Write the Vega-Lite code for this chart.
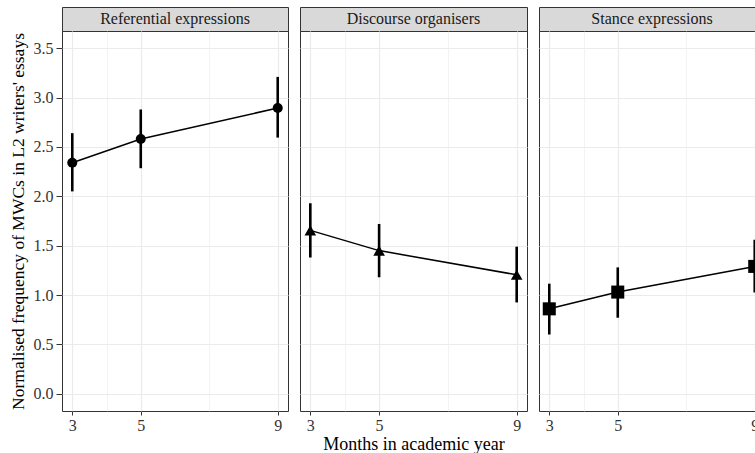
{
  "$schema": "https://vega.github.io/schema/vega-lite/v6.json",
  "background": "white",
  "padding": {"left": 8, "top": 6, "right": 0, "bottom": 0},
  "data": {
    "values": [
      {"type": "Referential expressions", "month": 3, "mean": 2.34, "lo": 2.05, "hi": 2.64},
      {"type": "Referential expressions", "month": 5, "mean": 2.58, "lo": 2.285, "hi": 2.88},
      {"type": "Referential expressions", "month": 9, "mean": 2.895, "lo": 2.595, "hi": 3.21},
      {"type": "Discourse organisers", "month": 3, "mean": 1.655, "lo": 1.38, "hi": 1.93},
      {"type": "Discourse organisers", "month": 5, "mean": 1.45, "lo": 1.18, "hi": 1.72},
      {"type": "Discourse organisers", "month": 9, "mean": 1.205, "lo": 0.925, "hi": 1.49},
      {"type": "Stance expressions", "month": 3, "mean": 0.86, "lo": 0.6, "hi": 1.115},
      {"type": "Stance expressions", "month": 5, "mean": 1.03, "lo": 0.77, "hi": 1.28},
      {"type": "Stance expressions", "month": 9, "mean": 1.29, "lo": 1.025, "hi": 1.56}
    ]
  },
  "spacing": 10,
  "hconcat": [
    {
      "spacing": 0,
      "bounds": "flush",
      "vconcat": [
        {
          "width": 226,
          "height": 24,
          "view": {"fill": "#d9d9d9", "stroke": "#333333"},
          "transform": [
            {"filter": "datum.type === 'Referential expressions'"},
            {"aggregate": [{"op": "count", "as": "n"}], "groupby": ["type"]}
          ],
          "mark": {"type": "text", "fontSize": 16, "color": "#1a1a1a"},
          "encoding": {"text": {"field": "type"}}
        },
        {
          "width": 226,
          "height": 380,
          "transform": [{"filter": "datum.type === 'Referential expressions'"}],
          "encoding": {
            "x": {
              "field": "month",
              "type": "quantitative",
              "scale": {"domain": [2.7, 9.3], "nice": false, "zero": false},
              "axis": {
                "values": [3, 4, 5, 7, 9],
                "title": null,
                "labelExpr": "datum.value == 4 || datum.value == 7 ? '' : datum.label",
                "gridWidth": {"condition": {"test": "datum.value == 4 || datum.value == 7", "value": 0.6}, "value": 1.2},
                "tickOpacity": {"condition": {"test": "datum.value == 4 || datum.value == 7", "value": 0}, "value": 1}
              }
            }
          },
          "layer": [
            {
              "mark": {"type": "rule", "strokeWidth": 2.6, "color": "black"},
              "encoding": {
                "y": {
                  "field": "lo",
                  "type": "quantitative",
                  "scale": {"domain": [-0.175, 3.675], "nice": false, "zero": false},
                  "axis": {
                    "values": [0, 0.25, 0.5, 0.75, 1, 1.25, 1.5, 1.75, 2, 2.25, 2.5, 2.75, 3, 3.25, 3.5],
                    "title": "Normalised frequency of MWCs in L2 writers' essays",
                    "titlePadding": 6,
                    "titleFontSize": 17.5,
                    "labelFontSize": 16,
                    "tickSize": 6,
                    "labelPadding": 3,
                    "labelExpr": "round(datum.value * 2) != datum.value * 2 ? '' : format(datum.value, '.1f')",
                    "gridWidth": {"condition": {"test": "round(datum.value * 2) != datum.value * 2", "value": 0.6}, "value": 1.2},
                    "tickOpacity": {"condition": {"test": "round(datum.value * 2) != datum.value * 2", "value": 0}, "value": 1}
                  }
                },
                "y2": {"field": "hi"}
              }
            },
            {
              "mark": {"type": "line", "strokeWidth": 1.5, "color": "black"},
              "encoding": {
                "y": {"field": "mean", "type": "quantitative", "title": "Normalised frequency of MWCs in L2 writers' essays"}
              }
            },
            {
              "mark": {"type": "point", "filled": true, "opacity": 1, "color": "black"},
              "encoding": {
                "y": {"field": "mean", "type": "quantitative", "title": "Normalised frequency of MWCs in L2 writers' essays"},
                "shape": {
                  "field": "type",
                  "scale": {"domain": ["Referential expressions", "Discourse organisers", "Stance expressions"], "range": ["circle", "triangle-up", "square"]},
                  "legend": null
                },
                "size": {
                  "field": "type",
                  "scale": {"domain": ["Referential expressions", "Discourse organisers", "Stance expressions"], "range": [100, 170, 95]},
                  "legend": null
                }
              }
            }
          ]
        }
      ]
    },
    {
      "spacing": 0,
      "bounds": "flush",
      "vconcat": [
        {
          "width": 227,
          "height": 24,
          "view": {"fill": "#d9d9d9", "stroke": "#333333"},
          "transform": [
            {"filter": "datum.type === 'Discourse organisers'"},
            {"aggregate": [{"op": "count", "as": "n"}], "groupby": ["type"]}
          ],
          "mark": {"type": "text", "fontSize": 16, "color": "#1a1a1a"},
          "encoding": {"text": {"field": "type"}}
        },
        {
          "width": 227,
          "height": 380,
          "transform": [{"filter": "datum.type === 'Discourse organisers'"}],
          "encoding": {
            "x": {
              "field": "month",
              "type": "quantitative",
              "scale": {"domain": [2.7, 9.3], "nice": false, "zero": false},
              "axis": {
                "values": [3, 4, 5, 7, 9],
                "title": "Months in academic year",
                "labelExpr": "datum.value == 4 || datum.value == 7 ? '' : datum.label",
                "gridWidth": {"condition": {"test": "datum.value == 4 || datum.value == 7", "value": 0.6}, "value": 1.2},
                "tickOpacity": {"condition": {"test": "datum.value == 4 || datum.value == 7", "value": 0}, "value": 1}
              }
            }
          },
          "layer": [
            {
              "mark": {"type": "rule", "strokeWidth": 2.6, "color": "black"},
              "encoding": {
                "y": {
                  "field": "lo",
                  "type": "quantitative",
                  "scale": {"domain": [-0.175, 3.675], "nice": false, "zero": false},
                  "axis": {
                    "values": [0, 0.25, 0.5, 0.75, 1, 1.25, 1.5, 1.75, 2, 2.25, 2.5, 2.75, 3, 3.25, 3.5],
                    "title": null,
                    "labels": false,
                    "ticks": false,
                    "gridWidth": {"condition": {"test": "round(datum.value * 2) != datum.value * 2", "value": 0.6}, "value": 1.2}
                  }
                },
                "y2": {"field": "hi"}
              }
            },
            {
              "mark": {"type": "line", "strokeWidth": 1.5, "color": "black"},
              "encoding": {"y": {"field": "mean", "type": "quantitative", "title": null}}
            },
            {
              "mark": {"type": "point", "filled": true, "opacity": 1, "color": "black"},
              "encoding": {
                "y": {"field": "mean", "type": "quantitative", "title": null},
                "shape": {
                  "field": "type",
                  "scale": {"domain": ["Referential expressions", "Discourse organisers", "Stance expressions"], "range": ["circle", "triangle-up", "square"]},
                  "legend": null
                },
                "size": {
                  "field": "type",
                  "scale": {"domain": ["Referential expressions", "Discourse organisers", "Stance expressions"], "range": [100, 170, 95]},
                  "legend": null
                }
              }
            }
          ]
        }
      ]
    },
    {
      "spacing": 0,
      "bounds": "flush",
      "vconcat": [
        {
          "width": 226,
          "height": 24,
          "view": {"fill": "#d9d9d9", "stroke": "#333333"},
          "transform": [
            {"filter": "datum.type === 'Stance expressions'"},
            {"aggregate": [{"op": "count", "as": "n"}], "groupby": ["type"]}
          ],
          "mark": {"type": "text", "fontSize": 16, "color": "#1a1a1a"},
          "encoding": {"text": {"field": "type"}}
        },
        {
          "width": 226,
          "height": 380,
          "transform": [{"filter": "datum.type === 'Stance expressions'"}],
          "encoding": {
            "x": {
              "field": "month",
              "type": "quantitative",
              "scale": {"domain": [2.7, 9.3], "nice": false, "zero": false},
              "axis": {
                "values": [3, 4, 5, 7, 9],
                "title": null,
                "labelExpr": "datum.value == 4 || datum.value == 7 ? '' : datum.label",
                "gridWidth": {"condition": {"test": "datum.value == 4 || datum.value == 7", "value": 0.6}, "value": 1.2},
                "tickOpacity": {"condition": {"test": "datum.value == 4 || datum.value == 7", "value": 0}, "value": 1}
              }
            }
          },
          "layer": [
            {
              "mark": {"type": "rule", "strokeWidth": 2.6, "color": "black"},
              "encoding": {
                "y": {
                  "field": "lo",
                  "type": "quantitative",
                  "scale": {"domain": [-0.175, 3.675], "nice": false, "zero": false},
                  "axis": {
                    "values": [0, 0.25, 0.5, 0.75, 1, 1.25, 1.5, 1.75, 2, 2.25, 2.5, 2.75, 3, 3.25, 3.5],
                    "title": null,
                    "labels": false,
                    "ticks": false,
                    "gridWidth": {"condition": {"test": "round(datum.value * 2) != datum.value * 2", "value": 0.6}, "value": 1.2}
                  }
                },
                "y2": {"field": "hi"}
              }
            },
            {
              "mark": {"type": "line", "strokeWidth": 1.5, "color": "black"},
              "encoding": {"y": {"field": "mean", "type": "quantitative", "title": null}}
            },
            {
              "mark": {"type": "point", "filled": true, "opacity": 1, "color": "black"},
              "encoding": {
                "y": {"field": "mean", "type": "quantitative", "title": null},
                "shape": {
                  "field": "type",
                  "scale": {"domain": ["Referential expressions", "Discourse organisers", "Stance expressions"], "range": ["circle", "triangle-up", "square"]},
                  "legend": null
                },
                "size": {
                  "field": "type",
                  "scale": {"domain": ["Referential expressions", "Discourse organisers", "Stance expressions"], "range": [100, 170, 95]},
                  "legend": null
                }
              }
            }
          ]
        }
      ]
    }
  ],
  "config": {
    "font": "Liberation Serif",
    "view": {"stroke": "#333333", "strokeWidth": 1},
    "axis": {
      "labelFont": "Liberation Serif",
      "labelFontSize": 16,
      "labelColor": "#333333",
      "titleFont": "Liberation Serif",
      "titleFontSize": 18,
      "titleFontWeight": "normal",
      "titleColor": "black",
      "titlePadding": 2,
      "gridColor": "#ebebeb",
      "tickColor": "#333333",
      "tickSize": 4,
      "labelPadding": 2,
      "domain": false
    },
    "text": {"font": "Liberation Serif"}
  }
}
